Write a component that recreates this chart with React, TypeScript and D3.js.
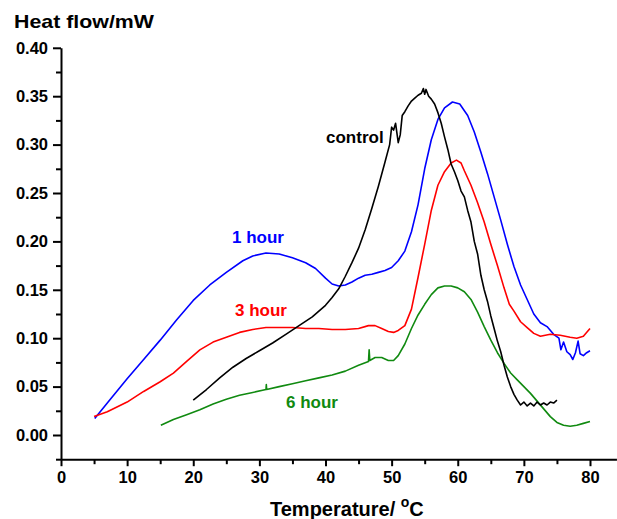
import React, { useEffect, useRef } from "react";
import * as d3 from "d3";

type Pt = [number, number];

// temperature (°C), heat flow (mW)
const oneHour: Pt[] = [
  [5.1, 0.017], [7, 0.033], [10, 0.058], [12.5, 0.078], [15, 0.098], [17.5, 0.119],
  [20, 0.139], [22.5, 0.155], [25, 0.168], [27.5, 0.18], [29, 0.185], [31, 0.188],
  [33, 0.187], [35, 0.183], [37, 0.178], [38.5, 0.172], [40, 0.162], [41, 0.156],
  [42, 0.154], [43, 0.155], [44, 0.158], [45, 0.162], [46, 0.165], [47, 0.166],
  [48, 0.168], [49, 0.17], [50, 0.173], [51, 0.18], [52, 0.19], [53, 0.21],
  [54, 0.238], [55, 0.275], [56, 0.305], [57, 0.326], [58, 0.338], [59.2, 0.344],
  [60.3, 0.342], [61.5, 0.33], [62.5, 0.313], [63.5, 0.292], [64.5, 0.27],
  [65.5, 0.246], [66.5, 0.222], [67.5, 0.197], [68.5, 0.174], [69.5, 0.155],
  [70.5, 0.14], [71.5, 0.125], [72.5, 0.116], [73.5, 0.112], [74.5, 0.104],
  [75.3, 0.1], [75.6, 0.088], [76, 0.096], [76.5, 0.086], [77, 0.083], [77.4, 0.078],
  [77.8, 0.085], [78.2, 0.097], [78.5, 0.084], [79, 0.082], [79.5, 0.085], [80, 0.087],
];

const threeHour: Pt[] = [
  [5, 0.019], [7, 0.024], [10, 0.034], [12.5, 0.045], [15, 0.055], [17, 0.064],
  [19, 0.076], [21, 0.088], [23, 0.096], [25, 0.101], [27, 0.106], [29, 0.109],
  [31, 0.111], [33, 0.111], [35, 0.111], [37, 0.11], [39, 0.11], [41, 0.109],
  [43, 0.109], [45, 0.11], [46.5, 0.113], [47.5, 0.113], [48.5, 0.11], [49.5, 0.107],
  [50.3, 0.106], [51, 0.108], [52, 0.113], [53, 0.13], [54, 0.163], [55, 0.197],
  [56, 0.232], [57, 0.258], [58, 0.272], [59, 0.281], [59.8, 0.284], [60.5, 0.281],
  [61, 0.273], [62, 0.258], [63, 0.24], [64, 0.22], [65, 0.197], [66, 0.175],
  [67, 0.152], [67.8, 0.135], [68.5, 0.128], [69.5, 0.117], [70.5, 0.111],
  [71.5, 0.105], [72.5, 0.102], [74, 0.104], [75.5, 0.103], [77, 0.101], [78, 0.1],
  [79, 0.102], [80, 0.11],
];

const sixHour: Pt[] = [
  [15.1, 0.01], [17, 0.016], [19, 0.021], [21, 0.026], [23, 0.032], [25, 0.037],
  [27, 0.041], [29, 0.044], [31, 0.047], [31.05, 0.052], [31.1, 0.047], [33, 0.05],
  [35, 0.053], [37, 0.056], [39, 0.059], [41, 0.062], [43, 0.066], [45, 0.072],
  [46.5, 0.076], [46.6, 0.088], [46.7, 0.077], [47.5, 0.08], [48.5, 0.08],
  [49.5, 0.077], [50.3, 0.077], [51, 0.082], [52, 0.094], [53, 0.11], [54, 0.124],
  [55, 0.135], [56, 0.145], [57, 0.152], [58, 0.154], [59, 0.154], [60, 0.152],
  [61, 0.148], [62, 0.14], [63, 0.127], [64, 0.112], [65, 0.098], [66, 0.085],
  [67, 0.074], [68, 0.064], [69, 0.057], [70, 0.05], [71, 0.043], [72, 0.035],
  [73, 0.027], [74, 0.019], [75, 0.013], [76, 0.01], [77, 0.009], [78, 0.01],
  [79, 0.012], [80, 0.014],
];

const control: Pt[] = [
  [20, 0.036], [22, 0.047], [24, 0.059], [26, 0.07], [28, 0.079], [30, 0.087],
  [32, 0.095], [34, 0.104], [36, 0.113], [38, 0.122], [40, 0.134], [41, 0.142],
  [42, 0.151], [43, 0.164], [44, 0.178], [45, 0.193], [46, 0.212], [47, 0.234],
  [48, 0.257], [49, 0.282], [49.7, 0.3], [50, 0.318], [50.3, 0.315], [50.6, 0.322],
  [51, 0.302], [51.3, 0.31], [51.6, 0.33], [52, 0.334], [52.5, 0.34], [53, 0.345],
  [53.5, 0.348], [54, 0.351], [54.5, 0.353], [54.8, 0.358], [55, 0.352], [55.2, 0.357],
  [55.6, 0.35], [56, 0.347], [56.5, 0.342], [57, 0.333], [57.5, 0.322], [58, 0.308],
  [58.5, 0.295], [59, 0.28], [59.5, 0.272], [60, 0.263], [60.5, 0.252], [61, 0.246],
  [61.5, 0.232], [62, 0.22], [62.5, 0.2], [63, 0.187], [63.5, 0.165], [64, 0.15],
  [64.5, 0.138], [65, 0.123], [65.5, 0.11], [66, 0.097], [66.5, 0.086], [67, 0.072],
  [67.5, 0.06], [68, 0.05], [68.5, 0.042], [69, 0.036], [69.5, 0.031], [70, 0.034],
  [70.5, 0.03], [71, 0.033], [71.5, 0.03], [72, 0.034], [72.5, 0.031], [73, 0.033],
  [73.5, 0.031], [74, 0.034], [74.5, 0.033], [75, 0.036],
];

const xTicks = [0, 10, 20, 30, 40, 50, 60, 70, 80];
const xMinor = [5, 15, 25, 35, 45, 55, 65, 75, 85];
const yTicks = [0, 0.05, 0.1, 0.15, 0.2, 0.25, 0.3, 0.35, 0.4];
const yMinor = [-0.025, 0.025, 0.075, 0.125, 0.175, 0.225, 0.275, 0.325, 0.375];

const series = [
  { name: "1 hour", data: oneHour, color: "#0000ff", lx: 232, ly: 243 },
  { name: "3 hour", data: threeHour, color: "#ff0000", lx: 235, ly: 316 },
  { name: "6 hour", data: sixHour, color: "#108a10", lx: 286, ly: 408 },
  { name: "control", data: control, color: "#000000", lx: 326, ly: 143 },
];

const W = 617;
const H = 519;
const font = "'Liberation Sans', Arial, sans-serif";

const App = () => {
  const ref = useRef<SVGSVGElement>(null);

  useEffect(() => {
    const svg = d3.select(ref.current);
    svg.selectAll("*").remove();

    const x = d3.scaleLinear().domain([0, 84]).range([61, 61 + 84 * 6.6125]);
    const y = d3.scaleLinear().domain([-0.025, 0.4]).range([459.2, 47.8]);

    // y axis
    const yAxis = svg.append("g").attr("transform", `translate(${x(0)},0)`);
    yAxis.call(
      d3.axisLeft(y).tickValues(yTicks).tickSize(8).tickSizeOuter(0).tickPadding(5)
        .tickFormat(d3.format(".2f"))
    );
    yAxis.append("g").call(
      d3.axisLeft(y).tickValues(yMinor).tickSize(5).tickSizeOuter(0).tickFormat(() => "")
    ).select(".domain").remove();

    // x axis
    const xAxis = svg.append("g").attr("transform", `translate(0,${y(-0.025)})`);
    xAxis.call(
      d3.axisBottom(x).tickValues(xTicks).tickSize(7).tickSizeOuter(0).tickPadding(5)
    );
    xAxis.append("g").call(
      d3.axisBottom(x).tickValues(xMinor).tickSize(5).tickSizeOuter(0).tickFormat(() => "")
    ).select(".domain").remove();

    svg.selectAll(".domain").attr("stroke", "#000").attr("stroke-width", 2);
    svg.selectAll(".tick line").attr("stroke", "#000").attr("stroke-width", 2);
    svg.selectAll(".tick text")
      .attr("font-family", font)
      .attr("font-weight", "bold")
      .attr("font-size", 16.5)
      .attr("fill", "#000");

    const line = d3.line<Pt>().x((d) => x(d[0])).y((d) => y(d[1]));

    series.forEach((s) => {
      svg.append("path")
        .datum(s.data)
        .attr("d", line)
        .attr("fill", "none")
        .attr("stroke", s.color)
        .attr("stroke-width", 1.6)
        .attr("stroke-linejoin", "round");
      svg.append("text")
        .attr("x", s.lx)
        .attr("y", s.ly)
        .attr("font-family", font)
        .attr("font-weight", "bold")
        .attr("font-size", 17)
        .attr("fill", s.color)
        .text(s.name);
    });

    svg.append("text")
      .attr("x", 14)
      .attr("y", 28)
      .attr("font-family", font)
      .attr("font-weight", "bold")
      .attr("font-size", 18.5)
      .attr("textLength", 140)
      .attr("lengthAdjust", "spacingAndGlyphs")
      .text("Heat flow/mW");

    const xl = svg.append("text")
      .attr("x", 270)
      .attr("y", 516)
      .attr("font-family", font)
      .attr("font-weight", "bold")
      .attr("font-size", 20);
    xl.append("tspan").text("Temperature/ ");
    xl.append("tspan").attr("font-size", 14).attr("dy", -9).text("o");
    xl.append("tspan").attr("dy", 9).text("C");
  }, []);

  return (
    <svg
      ref={ref}
      width={W}
      height={H}
      style={{ position: "absolute", left: 0, top: 0, background: "#fff" }}
    />
  );
};

export default App;
